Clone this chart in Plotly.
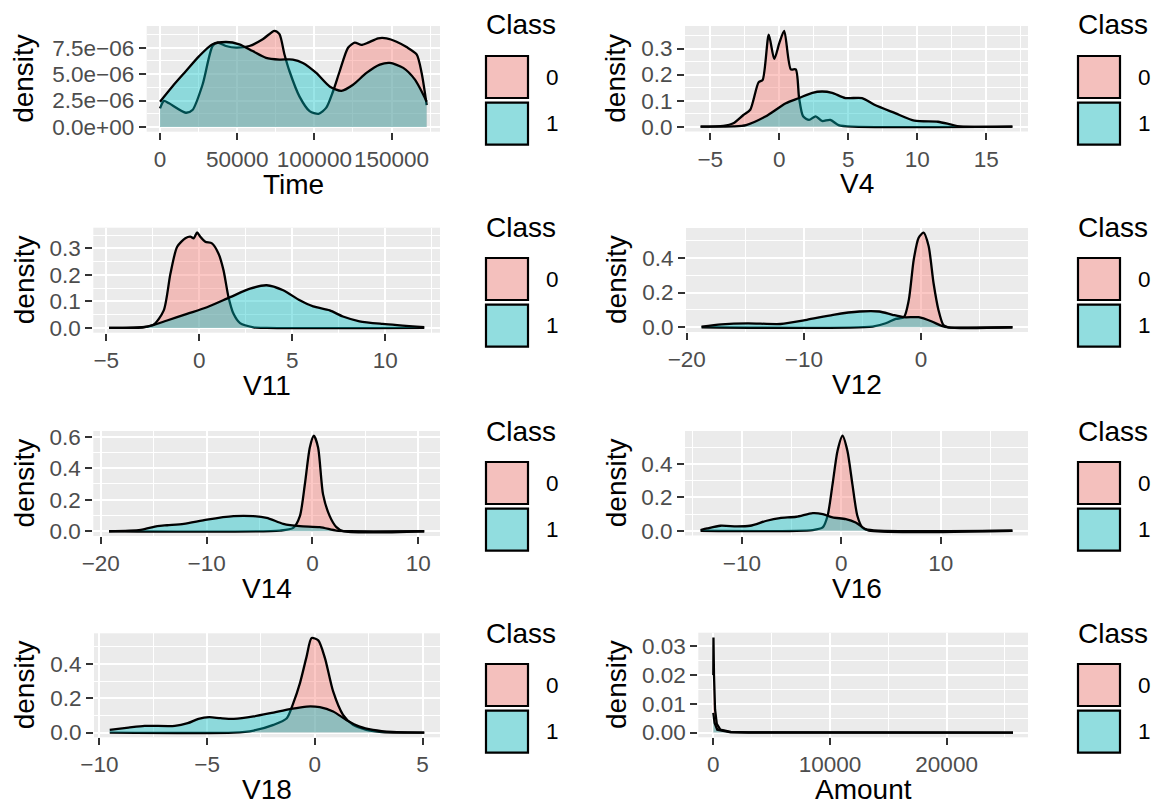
import plotly.graph_objects as go

W, H = 1155, 805

# ---------------- data ----------------
time_x0 = [0, 2600, 5850, 16690, 21030, 27530, 34030, 37280, 42700, 49200, 57870, 66550, 74130, 77380, 80630, 83890,
           90390, 96890, 102740, 107730, 112060, 116400, 121820, 126150, 130490, 134820, 141330, 146750, 153250,
           159750, 166260, 169510, 172760]
time_d0 = [1.76e-6, 2.46e-6, 2.23e-6, 1.34e-6, 1.6e-6, 3.99e-6, 7.66e-6, 7.98e-6, 7.66e-6, 7.5e-6, 7.66e-6, 8.3e-6,
           9.1e-6, 8.78e-6, 6.86e-6, 5.27e-6, 2.87e-6, 1.5e-6, 1.24e-6, 1.82e-6, 3.35e-6, 5.27e-6, 7.5e-6, 7.98e-6,
           7.76e-6, 7.98e-6, 8.39e-6, 8.39e-6, 8.07e-6, 7.56e-6, 6.86e-6, 5.1e-6, 2.07e-6]
time_x1 = [0, 8020, 16690, 25360, 34030, 42700, 51370, 60040, 68710, 77380, 86050, 92550, 101220, 109900, 117480,
           125070, 133740, 142410, 148910, 157580, 165170, 172760]
time_d1 = [2.39e-6, 3.83e-6, 5.27e-6, 6.7e-6, 7.82e-6, 8.04e-6, 7.82e-6, 7.18e-6, 6.54e-6, 6.38e-6, 6.38e-6, 6.06e-6,
           5.11e-6, 3.83e-6, 3.41e-6, 3.99e-6, 5.11e-6, 5.9e-6, 6.06e-6, 5.59e-6, 4.47e-6, 2.39e-6]

v4_x0 = [-5.7, -4.05, -3.33, -2.6, -2.1, -1.5, -1.2, -0.76, -0.36, 0.0, 0.36, 0.84, 1.2, 1.44, 1.73, 2.16, 2.64, 3.1,
         3.7, 4.3, 5.3, 16.9]
v4_d0 = [0, 0.003, 0.013, 0.045, 0.065, 0.17, 0.18, 0.353, 0.26, 0.32, 0.368, 0.22, 0.22, 0.11, 0.04, 0.026, 0.04,
         0.022, 0.026, 0.006, 0, 0]
v4_x1 = [-5.7, -3.3, -2.4, -1.0, 0.48, 1.44, 2.4, 3.1, 3.83, 4.8, 6.0, 6.9, 8.4, 9.8, 11.5, 12.4, 13.1, 16.9]
v4_d1 = [0, 0.001, 0.006, 0.039, 0.09, 0.11, 0.13, 0.135, 0.13, 0.11, 0.11, 0.084, 0.052, 0.023, 0.019, 0.009,
         0.001, 0]

v11_x0 = [-4.85, -2.98, -2.44, -1.91, -1.55, -1.19, -0.75, -0.48, -0.30, -0.12, 0.05, 0.32, 0.68, 1.03, 1.30, 1.57,
          1.84, 2.19, 2.91, 3.62, 12.09]
v11_d0 = [0, 0.0025, 0.0127, 0.066, 0.205, 0.306, 0.338, 0.344, 0.338, 0.36, 0.344, 0.325, 0.319, 0.281, 0.218,
          0.116, 0.053, 0.018, 0.0025, 0, 0]
v11_x1 = [-4.85, -2.8, -1.73, -0.66, 0.41, 1.66, 2.73, 3.62, 4.51, 5.40, 6.12, 7.01, 7.72, 8.61, 9.86, 12.09]
v11_d1 = [0, 0.005, 0.028, 0.053, 0.078, 0.116, 0.148, 0.161, 0.142, 0.104, 0.081, 0.066, 0.043, 0.025, 0.015,
          0.0025]

v12_x0 = [-18.74, -4.13, -3.01, -2.16, -1.46, -1.04, -0.62, -0.20, 0.22, 0.65, 1.07, 1.49, 1.91, 2.33, 7.81]
v12_d0 = [0, 0.004, 0.023, 0.048, 0.058, 0.158, 0.39, 0.516, 0.545, 0.468, 0.255, 0.10, 0.0135, 0, 0]
v12_x1 = [-18.74, -17.05, -14.80, -11.99, -9.75, -7.50, -5.25, -3.57, -2.44, -1.46, -0.20, 0.93, 1.77, 2.33, 7.81]
v12_d1 = [0.004, 0.017, 0.023, 0.019, 0.043, 0.072, 0.091, 0.091, 0.072, 0.058, 0.058, 0.033, 0.008, 0, 0]

v14_x0 = [-19.22, -3.07, -1.82, -1.19, -0.72, -0.25, 0.13, 0.53, 1.00, 1.63, 2.26, 2.88, 10.56]
v14_d0 = [0, 0.004, 0.021, 0.096, 0.298, 0.532, 0.606, 0.532, 0.234, 0.096, 0.026, 0, 0]
v14_x1 = [-19.22, -16.24, -14.67, -13.73, -12.16, -9.97, -7.46, -5.58, -4.33, -2.76, -1.19, 0.69, 2.26, 3.51, 10.56]
v14_d1 = [0, 0.0085, 0.032, 0.038, 0.047, 0.074, 0.096, 0.096, 0.085, 0.047, 0.032, 0.026, 0.004, 0, 0]

v16_x0 = [-14.15, -2.87, -1.87, -1.38, -0.88, -0.38, 0.12, 0.61, 1.11, 1.61, 2.11, 2.77, 17.2]
v16_d0 = [0, 0.004, 0.02, 0.09, 0.28, 0.48, 0.57, 0.48, 0.28, 0.09, 0.02, 0, 0]
v16_x1 = [-14.15, -13.48, -12.16, -10.5, -9.17, -7.51, -6.19, -4.53, -2.87, -1.87, -0.88, 0.45, 1.44, 2.44, 3.76,
          17.2]
v16_d1 = [0.004, 0.014, 0.03, 0.026, 0.03, 0.06, 0.076, 0.084, 0.106, 0.10, 0.08, 0.07, 0.05, 0.01, 0, 0]

v18_x0 = [-9.52, -3.76, -2.84, -1.92, -1.30, -1.0, -0.69, -0.38, -0.15, 0.16, 0.47, 0.85, 1.31, 1.77, 2.39, 3.0,
          3.6, 5.08]
v18_d0 = [0, 0, 0.012, 0.045, 0.084, 0.172, 0.289, 0.445, 0.552, 0.538, 0.435, 0.24, 0.103, 0.045, 0.016, 0.004,
          0, 0]
v18_x1 = [-9.52, -8.65, -7.9, -6.5, -5.9, -5.4, -4.9, -4.38, -3.76, -2.84, -1.92, -1.15, -0.38, 0.23, 0.85, 1.46,
          2.08, 2.7, 3.6, 5.08]
v18_d1 = [0.016, 0.029, 0.039, 0.039, 0.055, 0.08, 0.09, 0.084, 0.08, 0.094, 0.117, 0.137, 0.152, 0.148, 0.123,
          0.074, 0.035, 0.016, 0.004, 0]

amount_x0 = [0, 15, 60, 150, 300, 600, 1500, 3000, 25691]
amount_d0 = [0.02, 0.033, 0.02, 0.008, 0.003, 0.001, 0.0002, 0.00003, 0]
amount_x1 = [0, 40, 113, 340, 1500, 3000, 25691]
amount_d1 = [0.0068, 0.0045, 0.0033, 0.001, 0.0001, 0.00001, 0]

classes = ["0", "1"]

panels = [
    dict(var="Time", x0=time_x0, d0=time_d0, x1=time_x1, d1=time_d1,
         xt=[0, 50000, 100000, 150000], xl=["0", "50000", "100000", "150000"],
         yt=[0, 2.5e-6, 5e-6, 7.5e-6], yl=["0.0e+00", "2.5e\u221206", "5.0e\u221206", "7.5e\u221206"]),
    dict(var="V4", x0=v4_x0, d0=v4_d0, x1=v4_x1, d1=v4_d1,
         xt=[-5, 0, 5, 10, 15], xl=["\u22125", "0", "5", "10", "15"],
         yt=[0, 0.1, 0.2, 0.3], yl=["0.0", "0.1", "0.2", "0.3"]),
    dict(var="V11", x0=v11_x0, d0=v11_d0, x1=v11_x1, d1=v11_d1,
         xt=[-5, 0, 5, 10], xl=["\u22125", "0", "5", "10"],
         yt=[0, 0.1, 0.2, 0.3], yl=["0.0", "0.1", "0.2", "0.3"]),
    dict(var="V12", x0=v12_x0, d0=v12_d0, x1=v12_x1, d1=v12_d1,
         xt=[-20, -10, 0], xl=["\u221220", "\u221210", "0"],
         yt=[0, 0.2, 0.4], yl=["0.0", "0.2", "0.4"]),
    dict(var="V14", x0=v14_x0, d0=v14_d0, x1=v14_x1, d1=v14_d1,
         xt=[-20, -10, 0, 10], xl=["\u221220", "\u221210", "0", "10"],
         yt=[0, 0.2, 0.4, 0.6], yl=["0.0", "0.2", "0.4", "0.6"]),
    dict(var="V16", x0=v16_x0, d0=v16_d0, x1=v16_x1, d1=v16_d1,
         xt=[-10, 0, 10], xl=["\u221210", "0", "10"],
         yt=[0, 0.2, 0.4], yl=["0.0", "0.2", "0.4"]),
    dict(var="V18", x0=v18_x0, d0=v18_d0, x1=v18_x1, d1=v18_d1,
         xt=[-10, -5, 0, 5], xl=["\u221210", "\u22125", "0", "5"],
         yt=[0, 0.2, 0.4], yl=["0.0", "0.2", "0.4"]),
    dict(var="Amount", x0=amount_x0, d0=amount_d0, x1=amount_x1, d1=amount_d1,
         xt=[0, 10000, 20000], xl=["0", "10000", "20000"],
         yt=[0, 0.01, 0.02, 0.03], yl=["0.00", "0.01", "0.02", "0.03"], linear=True),
]

# ---------------- layout geometry (pixels) ----------------
boxes = [
    (146.7, 26, 440, 131.7), (685, 26, 1028, 131.5),
    (93.3, 227.7, 440, 332.7), (686, 228, 1028, 332),
    (93.3, 431, 440, 536), (685, 431, 1028, 535.5),
    (94, 633.3, 440, 737.3), (698.3, 632.7, 1028, 737.3),
]
row_off = [0, 202, 406, 608]

FONT = "Liberation Sans, Arial, Helvetica, sans-serif"
RED_FILL = "rgba(248,118,109,0.4)"
TEAL_FILL = "rgba(0,191,196,0.4)"

fig = go.Figure()
layout = dict(width=W, height=H, margin=dict(l=0, r=0, t=0, b=0, autoexpand=False), paper_bgcolor="white",
              plot_bgcolor="#EBEBEB", showlegend=False, font=dict(family=FONT))
annotations = []
shapes = []


def px_x(v):
    return v / W


def px_y(v):
    return 1 - v / H


def minor_vals(ticks, lo, hi):
    step = ticks[1] - ticks[0]
    cands = [t - step / 2 for t in ticks] + [ticks[-1] + step / 2]
    return [c for c in cands if lo <= c <= hi]


for i, p in enumerate(panels):
    k = "" if i == 0 else str(i + 1)
    xa, ya = "x" + k, "y" + k
    x0b, y0b, x1b, y1b = boxes[i]
    xs_all = p["x0"] + p["x1"]
    ys_all = p["d0"] + p["d1"]
    xmin, xmax = min(xs_all), max(xs_all)
    xspan = xmax - xmin
    xr = [xmin - 0.05 * xspan, xmax + 0.05 * xspan]
    ymax = max(ys_all)
    yr = [-0.05 * ymax, 1.05 * ymax]
    shape = "linear" if p.get("linear") else "spline"
    for xs, ds, fc in ((p["x0"], p["d0"], RED_FILL), (p["x1"], p["d1"], TEAL_FILL)):
        fig.add_trace(go.Scatter(x=xs, y=ds, xaxis=xa, yaxis=ya, mode="lines", fill="tozeroy",
                                 fillcolor=fc, line=dict(color="black", width=2.3, shape=shape,
                                                         smoothing=0.7 if shape == "spline" else None),
                                 hoverinfo="skip"))
    common = dict(showline=False, zeroline=False, ticks="outside", ticklen=7, tickwidth=2, tickcolor="#333333",
                  tickfont=dict(family=FONT, size=22.5, color="#4D4D4D"), showgrid=True, gridcolor="white",
                  gridwidth=2, tickmode="array", automargin=False, tickangle=0)
    layout["xaxis" + k] = dict(common, domain=[px_x(x0b), px_x(x1b)], range=xr, anchor=ya,
                               tickvals=p["xt"], ticktext=p["xl"],
                               minor=dict(tickmode="array", tickvals=minor_vals(p["xt"], *xr),
                                          showgrid=True, gridcolor="white", gridwidth=1, ticks=""))
    layout["yaxis" + k] = dict(common, domain=[px_y(y1b), px_y(y0b)], range=yr, anchor=xa,
                               tickvals=p["yt"], ticktext=p["yl"],
                               minor=dict(tickmode="array", tickvals=minor_vals(p["yt"], *yr),
                                          showgrid=True, gridcolor="white", gridwidth=1, ticks=""))
    # axis titles
    annotations.append(dict(text=p["var"], xref="paper", yref="paper", x=px_x((x0b + x1b) / 2),
                            y=px_y(y1b + 52.5), xanchor="center", yanchor="middle", showarrow=False,
                            font=dict(family=FONT, size=28, color="black")))
    col = i % 2
    annotations.append(dict(text="density", xref="paper", yref="paper", x=px_x(24 if col == 0 else 616),
                            y=px_y((y0b + y1b) / 2), xanchor="center", yanchor="middle", textangle=-90,
                            showarrow=False, font=dict(family=FONT, size=28, color="black")))
    # legend
    off = row_off[i // 2]
    lx = 485 if col == 0 else 1077
    annotations.append(dict(text="Class", xref="paper", yref="paper", x=px_x(lx - 1), y=px_y(25 + off),
                            xanchor="left", yanchor="middle", showarrow=False,
                            font=dict(family=FONT, size=28, color="black")))
    for j, (cls, fc) in enumerate(zip(classes, (RED_FILL, TEAL_FILL))):
        top = 55 + off + j * 46.7
        bot = top + 44
        shapes.append(dict(type="rect", xref="paper", yref="paper", x0=px_x(lx), x1=px_x(lx + 44),
                           y0=px_y(bot), y1=px_y(top), fillcolor="#F2F2F2", line=dict(width=0), layer="above"))
        shapes.append(dict(type="rect", xref="paper", yref="paper", x0=px_x(lx + 1), x1=px_x(lx + 43),
                           y0=px_y(bot - 1), y1=px_y(top + 1), fillcolor=fc,
                           line=dict(color="black", width=2.2), layer="above"))
        annotations.append(dict(text=cls, xref="paper", yref="paper", x=px_x(lx + 59), y=px_y((top + bot) / 2),
                                xanchor="left", yanchor="middle", showarrow=False,
                                font=dict(family=FONT, size=22.5, color="black")))

layout["annotations"] = annotations
layout["shapes"] = shapes
fig.update_layout(**layout)
fig.write_html("out.html", config={"displayModeBar": False, "staticPlot": True},
               post_script="document.body.style.margin='0';document.body.style.overflow='hidden';")
